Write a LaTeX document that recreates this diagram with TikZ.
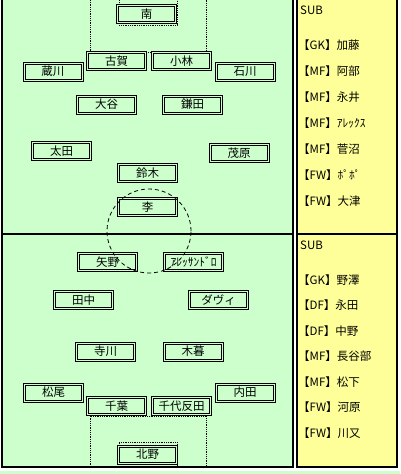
\documentclass[tikz,border=0pt]{standalone}
\usepackage{fontspec}
\setmainfont{Noto Sans CJK JP}
\definecolor{fieldgreen}{HTML}{CCFFCC}
\definecolor{subyellow}{HTML}{FFFF99}
\tikzset{
  player/.style={draw=black,fill=fieldgreen,line width=1pt,
    minimum width=60pt,minimum height=19pt,inner sep=0pt,font=\fontsize{11.5}{12}\selectfont,
    path picture={\draw[line width=1pt]
      ([shift={(2pt,2pt)}]path picture bounding box.south west) rectangle
      ([shift={(-2pt,-2pt)}]path picture bounding box.north east);}},
  subname/.style={anchor=west,inner sep=0pt,font=\fontsize{11.5}{12}\selectfont},
  arealine/.style={densely dotted,line width=0.8pt},
  border/.style={line width=2.2pt}
}

\begin{document}
\begin{tikzpicture}[x=1pt,y=-1pt]
\useasboundingbox (0,0) rectangle (400,474);
\fill[white] (0,0) rectangle (400,474);
\fill[fieldgreen] (2,0) rectangle (293,467);
\fill[fieldgreen] (0,471) rectangle (400,474);
\fill[subyellow] (297,0) rectangle (397,467);
% penalty and goal areas
\draw[arealine] (90,0) -- (90,52) -- (206,52) -- (206,0);
\draw[arealine] (119,0) -- (119,25) -- (177,25) -- (177,0);
\draw[arealine] (90,467) -- (90,416) -- (206,416) -- (206,467);
\draw[arealine] (119,467) -- (119,442) -- (177,442) -- (177,467);
% upper team
\node[player] (t1) at (146.5,14) {南};
\node[player] (t2) at (116.5,61) {古賀};
\node[player] (t3) at (181.5,61) {小林};
\node[player] (t4) at (53,71.5) {蔵川};
\node[player] (t5) at (245,71.5) {石川};
\node[player] (t6) at (106.5,104.5) {大谷};
\node[player] (t7) at (192.5,104.5) {鎌田};
\node[player] (t8) at (61.5,151) {太田};
\node[player] (t9) at (239,153) {茂原};
\node[player] (t10) at (147.5,173) {鈴木};
\node[player] (t11) at (147.5,207) {李};
% lower team
\node[player] (b1) at (107.5,262) {矢野};
\node[player] (b2) at (193.5,262) {ｱﾚｯｻﾝﾄﾞﾛ};
\node[player] (b3) at (83.5,300) {田中};
\node[player] (b4) at (218.5,300) {ダヴィ};
\node[player] (b5) at (105.5,351.5) {寺川};
\node[player] (b6) at (193,351.5) {木暮};
\node[player] (b7) at (53.5,392.5) {松尾};
\node[player] (b8) at (245,392.5) {内田};
\node[player] (b9) at (116.5,406) {千葉};
\node[player] (b10) at (181.5,406) {千代反田};
\node[player] (b11) at (147.5,454.5) {北野};
% centre circle
\draw[dash pattern=on 4pt off 3pt,line width=0.8pt] (149,231) circle[radius=42pt];
% lines
\draw[border] (2,0) -- (2,467) -- (293,467) -- (293,0);
\draw[border] (2,234) -- (293,234);
\draw[border] (297,0) -- (297,467) -- (397,467) -- (397,0);
\draw[border] (297,234) -- (397,234);
% substitutes
\node[subname] (ts0) at (300,10) {SUB};
\node[subname] (ts1) at (298,45) {【GK】加藤};
\node[subname] (ts2) at (298,71) {【MF】阿部};
\node[subname] (ts3) at (298,97) {【MF】永井};
\node[subname] (ts4) at (298,123) {【MF】ｱﾚｯｸｽ};
\node[subname] (ts5) at (298,149) {【MF】菅沼};
\node[subname] (ts6) at (298,175) {【FW】ﾎﾟﾎﾟ};
\node[subname] (ts7) at (298,201) {【FW】大津};
\node[subname] (bs0) at (300,245) {SUB};
\node[subname] (bs1) at (298,280) {【GK】野澤};
\node[subname] (bs2) at (298,305.5) {【DF】永田};
\node[subname] (bs3) at (298,331) {【DF】中野};
\node[subname] (bs4) at (298,356.5) {【MF】長谷部};
\node[subname] (bs5) at (298,382) {【MF】松下};
\node[subname] (bs6) at (298,407.5) {【FW】河原};
\node[subname] (bs7) at (298,433) {【FW】川又};
\end{tikzpicture}
\end{document}
